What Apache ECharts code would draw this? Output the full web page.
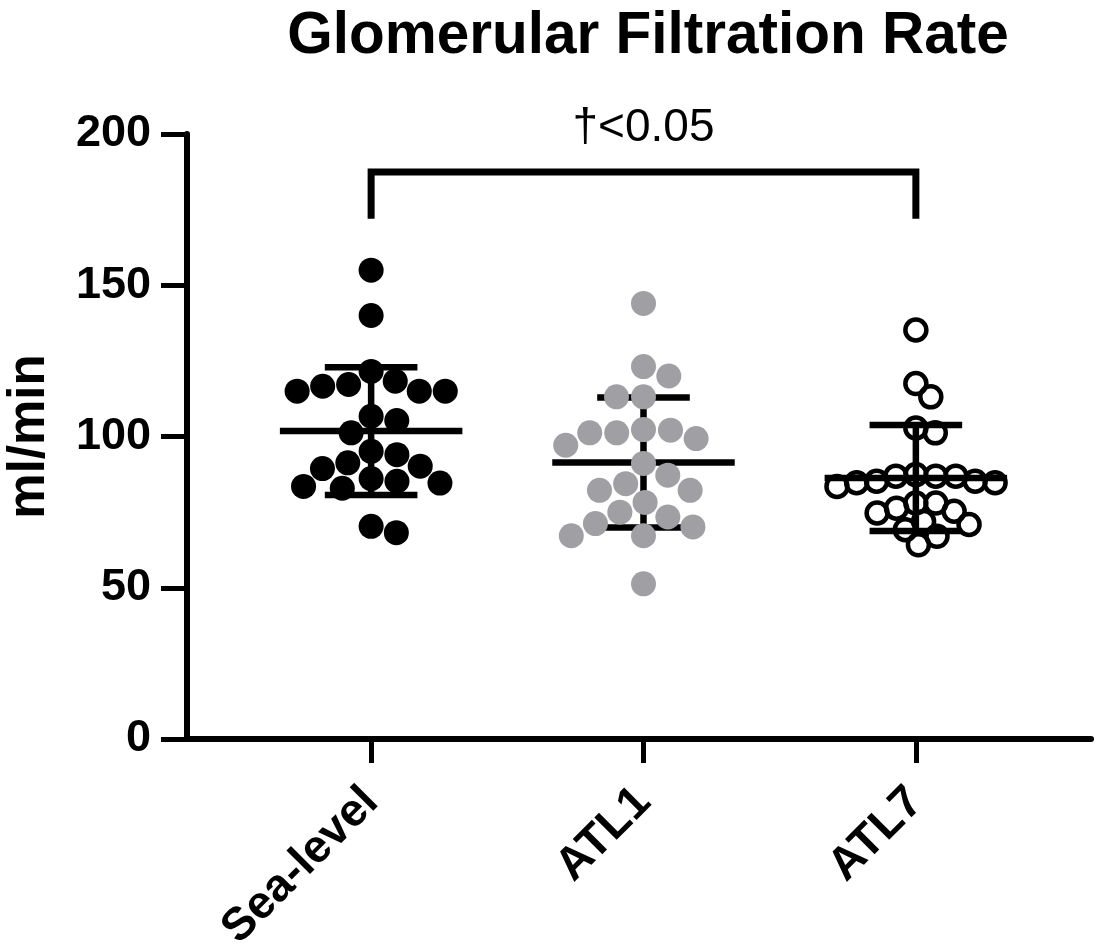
<!DOCTYPE html>
<html>
<head>
<meta charset="utf-8">
<script src="https://cdn.jsdelivr.net/npm/echarts@6/dist/echarts.min.js"></script>
<style>html,body{margin:0;padding:0;background:#fff}#c{width:1094px;height:947px}</style>
</head>
<body>
<div id="c"></div>
<script>
// ---- data ----
const categories = ['Sea-level', 'ATL1', 'ATL7'];
const seaLevel = [155, 140, 121.5, 118.3, 117.2, 116.6, 115, 115, 115, 106.7, 105.3, 101.2, 95.1, 94, 91.3, 90.2, 89.4, 86.1, 85.2, 84.6, 83.5, 82.9, 70.3, 68.2];
const atl1 = [144, 123.1, 120, 113.1, 113.1, 102.3, 102.1, 101.2, 101.2, 99.3, 97.1, 91.1, 87.2, 84.4, 82.2, 82.2, 78.2, 75, 73.4, 71.2, 70.1, 67.2, 67.2, 51.3];
const atl7 = [135.2, 117.5, 113.1, 102.8, 101.2, 87.4, 86.9, 86.9, 86.9, 85.2, 85.2, 84.7, 84.7, 83.5, 78, 78, 76.3, 75.3, 74.7, 71.9, 70.9, 69.2, 67, 64.2];
const meanValues = [101.8, 91.4, 86.3];
const sdValues = [21.1, 21.5, 17.5];
const yTicks = [0, 50, 100, 150, 200];
const bracketGroups = [0, 2];
const bracketFoot = 172;
const bracketTop = 187.4;
const bracketLabel = '\u2020<0.05';
const bracketLabelValue = 202;

const FONT = '"Liberation Sans", Arial, Helvetica, sans-serif';
const groups = [seaLevel, atl1, atl7];
const chart = echarts.init(document.getElementById('c'), null, {renderer: 'canvas'});

const baseOption = {
  animation: false,
  backgroundColor: '#fff',
  title: {
    text: 'Glomerular Filtration Rate',
    left: 643, top: 2, textAlign: 'center',
    textStyle: {fontFamily: FONT, fontWeight: 'bold', fontSize: 58.5, color: '#000'}
  },
  grid: {left: 187, right: 3, top: 134, bottom: 208, containLabel: false, outerBoundsMode: 'none'},
  xAxis: {
    type: 'value', min: 0.324, max: 3.643,
    axisLine: {show: true, onZero: false, lineStyle: {color: '#000', width: 6}},
    axisTick: {show: true, customValues: [1, 2, 3], length: 24, lineStyle: {color: '#000', width: 5}},
    axisLabel: {
      customValues: [1, 2, 3], rotate: 45, margin: 56,
      formatter: v => categories[Math.round(v) - 1] || '',
      fontFamily: FONT, fontWeight: 'bold', fontSize: 46, color: '#000'
    },
    splitLine: {show: false}
  },
  yAxis: {
    type: 'value', min: yTicks[0], max: yTicks[yTicks.length - 1], interval: 50,
    name: 'ml/min', nameLocation: 'middle', nameRotate: 90, nameGap: 132,
    nameTextStyle: {fontFamily: FONT, fontWeight: 'bold', fontSize: 51, color: '#000'},
    axisLine: {show: true, lineStyle: {color: '#000', width: 6}},
    axisTick: {show: true, length: 26, lineStyle: {color: '#000', width: 5}},
    axisLabel: {margin: 36, fontFamily: FONT, fontWeight: 'bold', fontSize: 45, color: '#000'},
    splitLine: {show: false}
  },
  series: []
};
chart.setOption(baseOption);

// beeswarm layout computed from values through the axis scales
const kx = chart.convertToPixel({xAxisIndex: 0}, 2) - chart.convertToPixel({xAxisIndex: 0}, 1);
const ky = chart.convertToPixel({yAxisIndex: 0}, 0) - chart.convertToPixel({yAxisIndex: 0}, 1);
function swarm(values, D) {
  const order = values.map((v, i) => i).sort((a, b) => values[b] - values[a]);
  const placed = [];
  const out = new Array(values.length);
  order.forEach(i => {
    const y = values[i] * ky;
    const cands = [0];
    placed.forEach(p => {
      const dy = Math.abs(p.y - y);
      if (dy < D) {
        const dx = Math.sqrt(D * D - dy * dy);
        cands.push(p.x + dx, p.x - dx);
      }
    });
    cands.sort((a, b) => Math.abs(a) - Math.abs(b) || b - a);
    let chosen = 0;
    for (const c of cands) {
      if (placed.every(p => (p.x - c) ** 2 + (p.y - y) ** 2 >= D * D - 1e-6)) { chosen = c; break; }
    }
    placed.push({x: chosen, y: y});
    out[i] = chosen / kx;
  });
  return out;
}

const scatterStyles = [
  {symbolSize: 25, itemStyle: {color: '#000', opacity: 1}},
  {symbolSize: 25, itemStyle: {color: '#a0a0a4', opacity: 1}},
  {symbolSize: 21, itemStyle: {color: 'rgba(0,0,0,0)', borderColor: '#000', borderWidth: 4.5, opacity: 1}}
];
const spacing = [26, 27, 20];

const series = [];
// mean ± SD bars
series.push({
  type: 'custom', z: 1,
  data: meanValues.map((m, i) => [i + 1, m, sdValues[i]]),
  renderItem: (params, api) => {
    const x = api.value(0), m = api.value(1), s = api.value(2);
    const c = api.coord([x, m]);
    const t = api.coord([x, m + s]);
    const b = api.coord([x, m - s]);
    const mh = api.size([0.335, 0])[0];
    const ch = api.size([0.17, 0])[0];
    const st = {stroke: '#000', lineWidth: 6.5, fill: null};
    return {type: 'group', children: [
      {type: 'line', shape: {x1: c[0] - mh, y1: c[1], x2: c[0] + mh, y2: c[1]}, style: st},
      {type: 'line', shape: {x1: t[0], y1: t[1], x2: b[0], y2: b[1]}, style: st},
      {type: 'line', shape: {x1: t[0] - ch, y1: t[1], x2: t[0] + ch, y2: t[1]}, style: st},
      {type: 'line', shape: {x1: b[0] - ch, y1: b[1], x2: b[0] + ch, y2: b[1]}, style: st}
    ]};
  }
});
groups.forEach((vals, gi) => {
  const off = swarm(vals, spacing[gi]);
  series.push(Object.assign({
    type: 'scatter', z: 2 + gi,
    data: vals.map((v, i) => [gi + 1 + off[i], v])
  }, scatterStyles[gi]));
});
// significance bracket
series.push({
  type: 'custom', z: 5, clip: false,
  data: [[bracketGroups[0] + 1, bracketGroups[1] + 1, bracketFoot, bracketTop, bracketLabelValue]],
  renderItem: (params, api) => {
    const x1 = api.value(0), x2 = api.value(1), f = api.value(2), tp = api.value(3), lv = api.value(4);
    const p1 = api.coord([x1, f]), p2 = api.coord([x1, tp]), p3 = api.coord([x2, tp]), p4 = api.coord([x2, f]);
    const lp = api.coord([(x1 + x2) / 2, lv]);
    return {type: 'group', children: [
      {type: 'polyline', shape: {points: [p1, p2, p3, p4]}, style: {stroke: '#000', lineWidth: 7, fill: null, lineJoin: 'miter'}},
      {type: 'text', x: lp[0], y: lp[1], style: {text: bracketLabel, fill: '#000', font: '46px ' + FONT, align: 'center', verticalAlign: 'middle'}}
    ]};
  }
});
chart.setOption({series: series});
</script>
</body>
</html>
